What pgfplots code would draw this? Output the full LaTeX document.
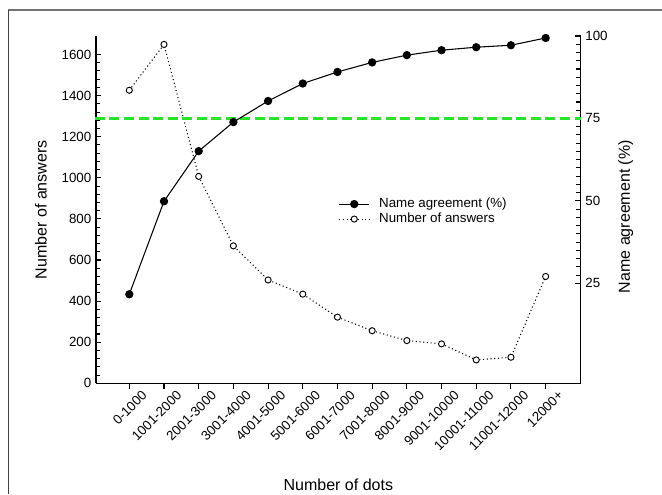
\documentclass[border=0pt]{standalone}
\usepackage{pgfplots}
\pgfplotsset{compat=1.18}
\usepackage{fontspec}
\setmainfont{Liberation Sans}
\definecolor{greenline}{RGB}{40,228,40}
\begin{document}
\begin{tikzpicture}
\useasboundingbox (0,0) rectangle (496.5pt,-370.5pt);
\draw[line width=1.1pt, black!55] (6.2pt,-7.5pt) -- (496.5pt,-7.5pt);
\draw[line width=1.1pt, black!75] (6.2pt,-7.5pt) -- (6.2pt,-370.5pt);
\pgfplotsset{
  common/.style={
    at={(72pt,-287.5pt)}, anchor=south west,
    scale only axis, width=363.5pt, height=260.5pt,
    xmin=-0.96, xmax=13.01,
    axis line style={line width=1pt, black},
    tick style={black, line width=0.8pt},
    major tick length=4pt, minor tick length=3.2pt,
    tick label style={font=\fontsize{10}{12}\selectfont},
    /pgf/number format/assume math mode=true,
    /pgf/number format/1000 sep={},
    clip=false,
  }
}
\begin{axis}[common,
  axis y line*=left, axis x line*=bottom,
  ymin=0, ymax=1690,
  ytick={0,200,...,1600}, minor y tick num=4,
  tick align=inside,
  xtick={0,...,12},
  xticklabels={0-1000,1001-2000,2001-3000,3001-4000,4001-5000,5001-6000,6001-7000,7001-8000,8001-9000,9001-10000,10001-11000,11001-12000,12000+},
  x tick label style={rotate=45, anchor=north east, inner sep=1pt, yshift=-8.5pt, xshift=4pt},
  every x tick/.append style={yshift=-4pt},
  every axis x label/.style={at={(axis description cs:0.5,0)}, anchor=base, yshift=-80pt, font=\fontsize{12}{14}\selectfont},
  every axis y label/.style={at={(axis description cs:0,0.5)}, rotate=90, anchor=center, yshift=41.4pt, font=\fontsize{12}{14}\selectfont},
  xlabel={Number of dots},
  ylabel={Number of answers},
]
\addplot[black, dotted, line width=0.8pt, mark=*, mark size=2.3pt, mark options={solid, fill=white, draw=black, line width=0.7pt}]
  coordinates {(0,1426) (1,1649) (2,1007) (3,669) (4,503) (5,434) (6,322) (7,256) (8,208) (9,192) (10,114) (11,127) (12,520)};
\end{axis}
\begin{axis}[common,
  axis y line*=right, axis x line=none,
  xtick=\empty,
  ymin=-5.3, ymax=100,
  ytick={25,50,75,100}, minor y tick num=9,
  tick align=inside,
  every axis y label/.style={at={(axis description cs:1,0.48)}, rotate=90, anchor=center, yshift=-33.8pt, font=\fontsize{12}{14}\selectfont},
  ylabel={Name agreement (\%)},
  legend style={draw=none, fill=none, at={(axis description cs:0.492,0.549)}, anchor=north west, font=\fontsize{10}{12}\selectfont, cells={anchor=west}, row sep=-1.5pt, /tikz/every odd column/.append style={column sep=5pt}},
  legend image code/.code={\draw[mark repeat=2,mark phase=2,#1] plot coordinates {(0pt,0pt)(11.25pt,0pt)(22.5pt,0pt)};},
]
\addplot[forget plot, greenline, line width=1.8pt, dash pattern=on 7.5pt off 3.4pt] coordinates {(-0.99,75) (13.01,75)};
\addplot[black, line width=0.8pt, mark=*, mark size=2.7pt, mark options={fill=black}]
  coordinates {(0,21.7) (1,49.9) (2,65.1) (3,73.9) (4,80.3) (5,85.6) (6,89.1) (7,92.0) (8,94.2) (9,95.7) (10,96.6) (11,97.2) (12,99.4)};
\addlegendimage{black, dotted, line width=0.8pt, mark=*, mark size=2.3pt, mark options={solid, fill=white, draw=black, line width=0.7pt}}
\legend{Name agreement (\%), Number of answers}
\end{axis}
\end{tikzpicture}
\end{document}
